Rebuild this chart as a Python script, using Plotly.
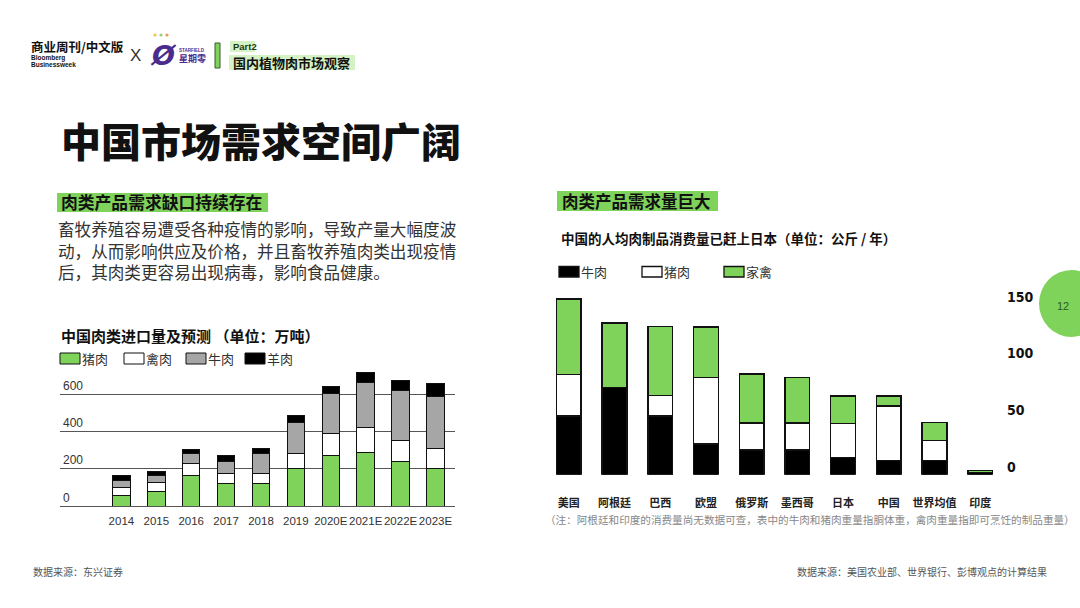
import plotly.graph_objects as go

# ---------------- data ----------------
years = ["2014", "2015", "2016", "2017", "2018", "2019", "2020E", "2021E", "2022E", "2023E"]
pork_imp = [54, 80, 161, 121, 121, 200, 268, 284, 241, 200]
poultry_imp = [46, 47, 68, 52, 52, 82, 118, 139, 111, 107]
beef_imp = [39, 37, 53, 64, 107, 164, 216, 236, 266, 282]
mutton_imp = [23, 22, 20, 31, 29, 40, 37, 55, 57, 65]
left_ticks = [0, 200, 400, 600]

countries = ["美国", "阿根廷", "巴西", "欧盟", "俄罗斯", "墨西哥", "日本", "中国", "世界均值", "印度"]
beef_pc = [52, 77, 52, 27, 22, 22, 15, 12.5, 12.5, 2]
pork_pc = [36.5, None, 18, 59, 23.5, 23.5, 30, 48, 17.5, None]
poultry_pc = [66.5, 57, 61, 44.5, 43.5, 40.5, 24.5, 9, 16, 1.5]
right_ticks = [0, 50, 100, 150]

GREEN = "#7FD35B"
GRAY = "#A6A6A6"
CJK = "Noto Sans CJK SC, Noto Sans, sans-serif"
W, H = 1080, 608


def px(x):
    return x / W


def py(y):
    return 1 - y / H


fig = go.Figure()

# left chart
for name, vals, col in [("猪肉", pork_imp, GREEN), ("禽肉", poultry_imp, "#FFFFFF"),
                        ("牛肉", beef_imp, GRAY), ("羊肉", mutton_imp, "#000000")]:
    fig.add_trace(go.Bar(x=years, y=vals, name=name, marker=dict(color=col, line=dict(color="#111", width=1)),
                         width=0.5, xaxis="x", yaxis="y", showlegend=False))

# right chart
for name, vals, col in [("牛肉", beef_pc, "#000000"), ("猪肉", pork_pc, "#FFFFFF"), ("家禽", poultry_pc, GREEN)]:
    fig.add_trace(go.Bar(x=countries, y=vals, name=name, marker=dict(color=col, line=dict(color="#111", width=1.5)),
                         width=0.54, xaxis="x2", yaxis="y2", showlegend=False))

shapes = []
annotations = []


def rect(x0, y0, x1, y1, fill, line=None, lw=1):
    shapes.append(dict(type="rect", xref="paper", yref="paper", x0=px(x0), x1=px(x1), y0=py(y1), y1=py(y0),
                       fillcolor=fill, line=dict(color=line if line else fill, width=lw if line else 0),
                       layer="below"))


def dot(cx, cy, r, fill):
    shapes.append(dict(type="circle", xref="paper", yref="paper", x0=px(cx - r), x1=px(cx + r),
                       y0=py(cy + r), y1=py(cy - r), fillcolor=fill, line=dict(width=0)))


def text(x, y, s, size, color="#222", xanchor="left", family=CJK, weight=None, align="left"):
    f = dict(size=size, color=color, family=family)
    if weight:
        f["weight"] = weight
    annotations.append(dict(x=px(x), y=py(y), xref="paper", yref="paper", text=s, showarrow=False,
                            xanchor=xanchor, yanchor="middle", font=f, borderpad=0, align=align))


# header
text(30, 46, "<b>商业周刊/中文版</b>", 12.5, "#111")
text(30, 58, "<b>Bloomberg</b>", 6.5, "#111", family="Liberation Sans")
text(30, 64, "<b>Businessweek</b>", 6.5, "#111", family="Liberation Sans")
text(129, 55, "X", 17, "#333", family="Liberation Sans")
text(149, 56, "<b><i>Ø</i></b>", 27, "#4B2C8C", family="DejaVu Sans")
dot(155, 35, 1.6, "#E7C84A")
dot(161, 35, 1.6, "#9BD06B")
dot(167, 35, 1.6, "#E79B5A")
text(178, 50, "<b>STARFIELD</b>", 4.5, "#4B2C8C", family="Liberation Sans")
text(178, 59, "<b>星期零</b>", 9, "#4B2C8C")
rect(215, 43, 220, 68, GREEN, "#3a5a2a", 1)
rect(230, 41, 255, 52, "#D5F2C4")
rect(229, 55, 355, 70, "#D5F2C4")
text(232, 46, "<b>Part2</b>", 9.5, "#1d3b12", family="Liberation Sans")
text(232, 62, "<b>国内植物肉市场观察</b>", 13, "#111")

# page title
text(60, 140, "中国市场需求空间广阔", 40, "#111", weight=900)

# left section
rect(57, 193, 268, 212, GREEN)
text(60, 202, "<b>肉类产品需求缺口持续存在</b>", 16.8, "#111")
body_lines = ["畜牧养殖容易遭受各种疫情的影响，导致产量大幅度波",
              "动，从而影响供应及价格，并且畜牧养殖肉类出现疫情",
              "后，其肉类更容易出现病毒，影响食品健康。"]
text(57, 250.5, "<br>".join(body_lines), 16.6, "#333")

text(60, 335, "<b>中国肉类进口量及预测 （单位：万吨）</b>", 15, "#111")
for (x0, fill, lbl) in [(60, GREEN, "猪肉"), (124, "#FFFFFF", "禽肉"), (186, GRAY, "牛肉"), (245, "#000000", "羊肉")]:
    rect(x0, 353, x0 + 20, 364, fill, "#111", 1)
    text(x0 + 21, 358.5, lbl, 13, "#333")

# right section
rect(557, 191, 718, 211, GREEN)
text(561, 201, "<b>肉类产品需求量巨大</b>", 16.5, "#111")
text(560, 238, "<b>中国的人均肉制品消费量已赶上日本（单位：公斤 / 年）</b>", 13.5, "#111")
for (x0, fill, lbl) in [(559, "#000000", "牛肉"), (642, "#FFFFFF", "猪肉"), (724, GREEN, "家禽")]:
    rect(x0, 266.5, x0 + 20, 277, fill, "#111", 1.3)
    text(x0 + 21, 271, lbl, 13, "#333")

text(544, 519, "（注：阿根廷和印度的消费量尚无数据可查，表中的牛肉和猪肉重量指胴体重，禽肉重量指即可烹饪的制品重量）",
     10.6, "#888")

# page number circle
shapes.append(dict(type="circle", xref="paper", yref="paper", x0=px(1039), x1=px(1104), y0=py(337), y1=py(270),
                   fillcolor=GREEN, line=dict(width=0)))
text(1063, 306, "12", 11, "#2d5e1a", xanchor="center", family="Liberation Sans")

# footers
text(32, 571, "数据来源：东兴证券", 10, "#555")
text(1048, 571, "数据来源：美国农业部、世界银行、彭博观点的计算结果", 10, "#555", xanchor="right")

fig.update_layout(
    template="none",
    width=W, height=H, autosize=False,
    margin=dict(l=0, r=0, t=0, b=0, pad=0),
    paper_bgcolor="white", plot_bgcolor="white",
    barmode="stack",
    shapes=shapes, annotations=annotations,
    xaxis=dict(domain=[px(60), px(455)], type="category", range=[-1.76, 9.56], anchor="y",
               automargin=False, tickangle=0,
               showgrid=False, showline=False, zeroline=False, ticks="", ticklabelstandoff=6,
               tickfont=dict(size=11.5, color="#333", family="Liberation Sans")),
    yaxis=dict(domain=[py(506), py(506 - 730 * 112 / 600)], range=[0, 730], anchor="x",
               automargin=False,
               tickvals=left_ticks, showgrid=True, gridcolor="#555", gridwidth=1,
               zeroline=True, zerolinecolor="#555", zerolinewidth=1.2,
               ticks="", ticklabelposition="inside top", showline=False,
               tickfont=dict(size=12, color="#333", family="Liberation Sans")),
    xaxis2=dict(domain=[px(546), px(1003)], type="category", range=[-0.5, 9.5], anchor="y2",
                automargin=False, tickangle=0,
                showgrid=False, showline=False, zeroline=False, ticks="", ticklabelstandoff=20,
                tickfont=dict(size=11, color="#222", family=CJK, weight="bold")),
    yaxis2=dict(domain=[py(474.7), py(474.7 - 160 * 1.133)], range=[0, 160], anchor="x2", side="right",
                automargin=False,
                tickvals=right_ticks, showgrid=False, zeroline=False, showline=False, ticks="",
                ticklabelstandoff=3, ticklabelshift=-8,
                tickfont=dict(size=14, color="#111",
                              family="DejaVu Sans Condensed, Liberation Sans Narrow, Roboto Condensed",
                              weight="bold")),
)

fig.write_html("out.html")
